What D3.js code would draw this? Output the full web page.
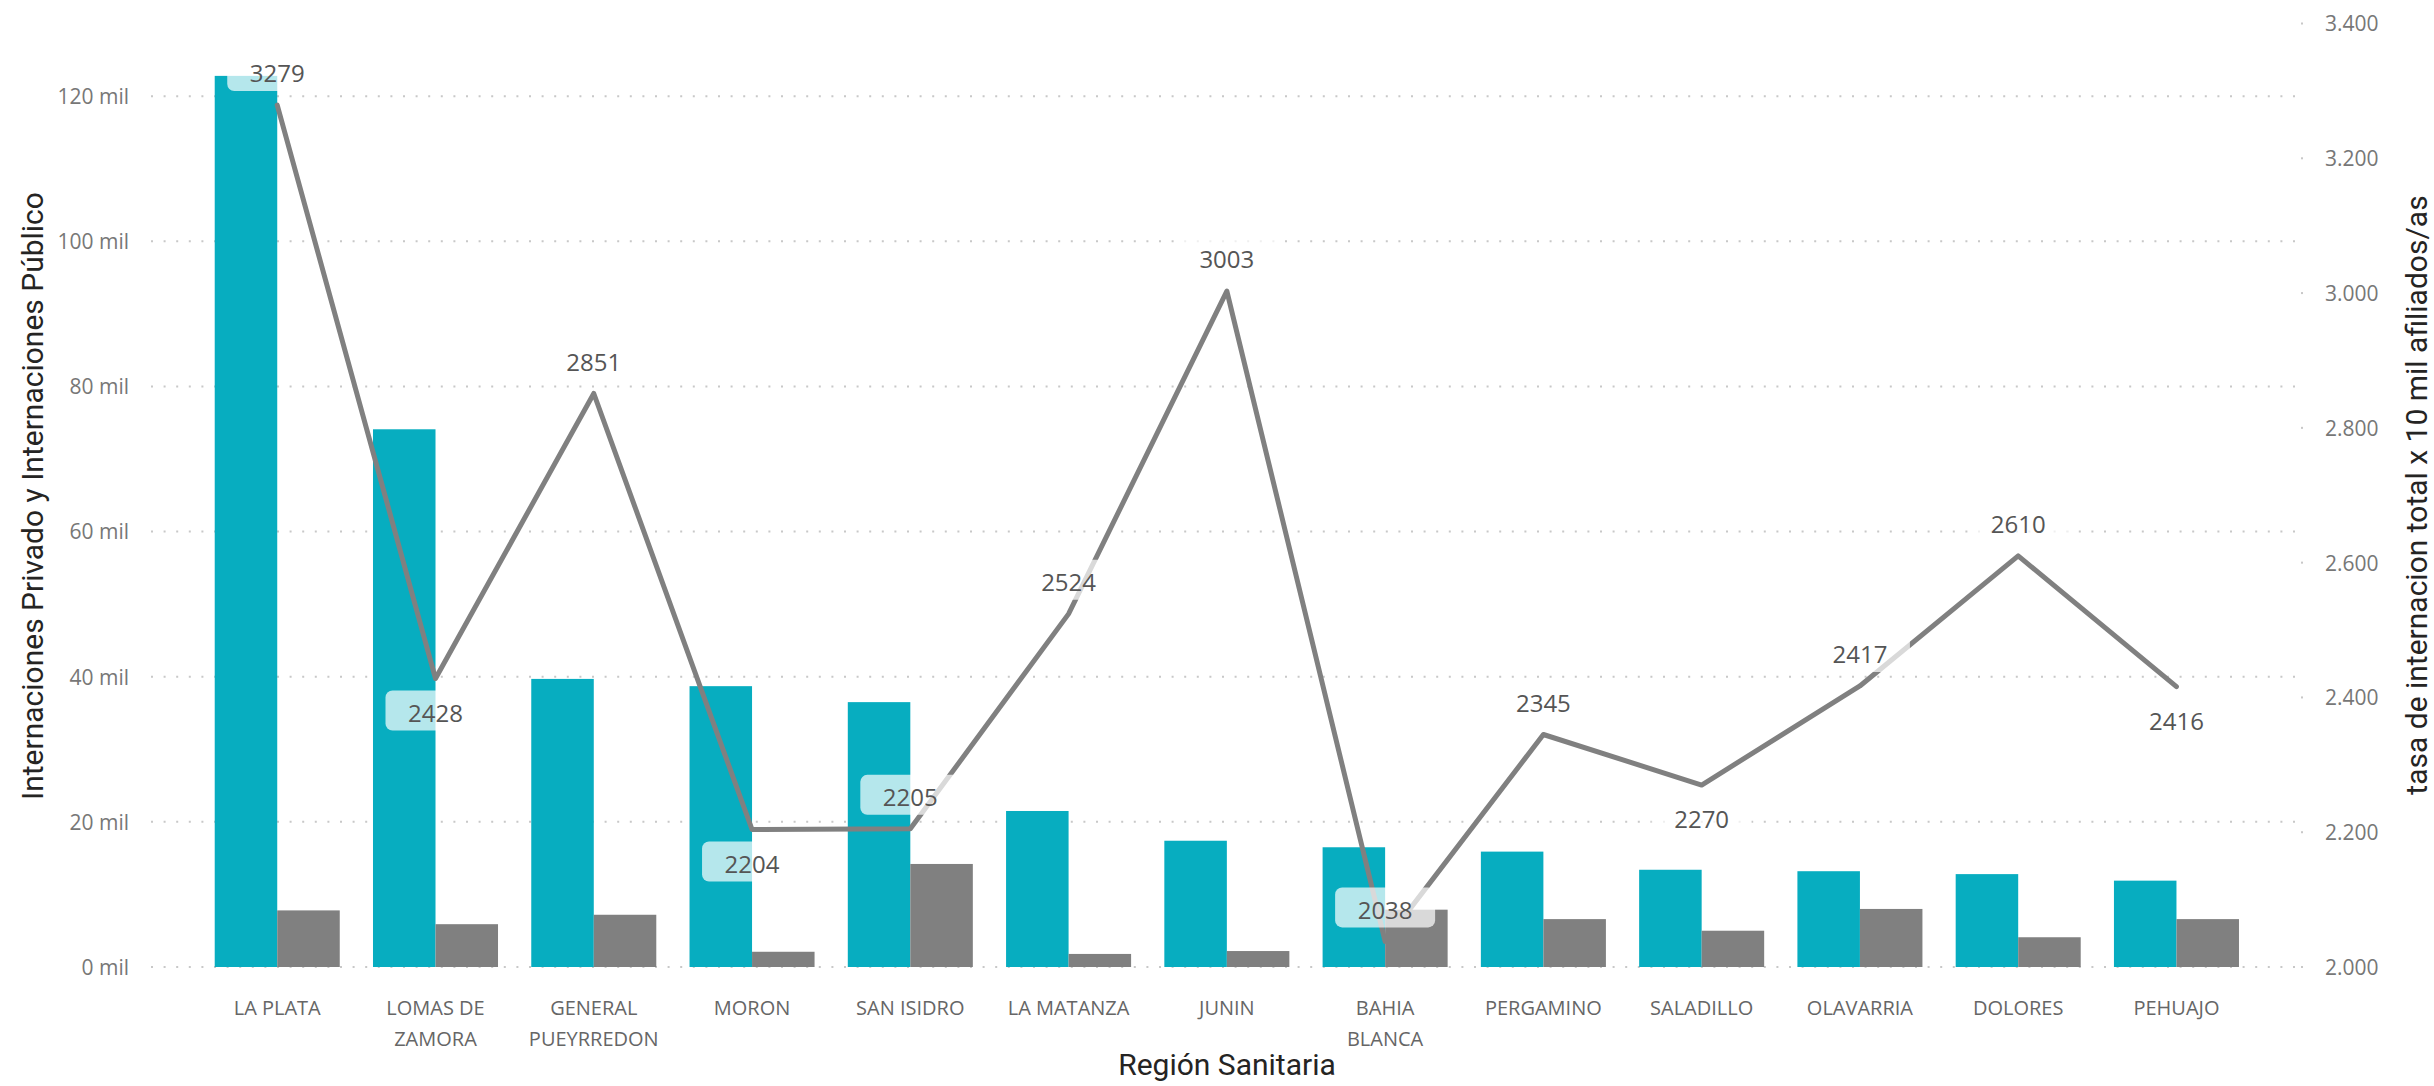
<!DOCTYPE html>
<html>
<head>
<meta charset="utf-8">
<script src="https://cdn.jsdelivr.net/npm/d3@7"></script>
<style>
  html, body { margin: 0; padding: 0; background: #ffffff; }
  svg { display: block; }
</style>
</head>
<body>
<svg id="chart" width="2434" height="1086"></svg>
<script>
// ---------------- DATA ----------------
const categories = ["LA PLATA", "LOMAS DE ZAMORA", "GENERAL PUEYRREDON", "MORON", "SAN ISIDRO",
  "LA MATANZA", "JUNIN", "BAHIA BLANCA", "PERGAMINO", "SALADILLO", "OLAVARRIA", "DOLORES", "PEHUAJO"];
const tickLabels = [["LA PLATA"], ["LOMAS DE", "ZAMORA"], ["GENERAL", "PUEYRREDON"], ["MORON"], ["SAN ISIDRO"],
  ["LA MATANZA"], ["JUNIN"], ["BAHIA", "BLANCA"], ["PERGAMINO"], ["SALADILLO"], ["OLAVARRIA"], ["DOLORES"], ["PEHUAJO"]];
const internacionesPrivado = [122800, 74100, 39700, 38700, 36500, 21500, 17400, 16500, 15900, 13400, 13200, 12800, 11900];
const internacionesPublico = [7800, 5900, 7200, 2100, 14200, 1800, 2200, 7900, 6600, 5000, 8000, 4100, 6600];
const tasaInternacion = [3279, 2428, 2851, 2204, 2205, 2524, 3003, 2038, 2345, 2270, 2417, 2610, 2416];
const leftTicks = [0, 20000, 40000, 60000, 80000, 100000, 120000];
const rightTicks = [2000, 2200, 2400, 2600, 2800, 3000, 3200, 3400];
const leftTitle = "Internaciones Privado y Internaciones Público";
const rightTitle = "tasa de internacion total x 10 mil afiliados/as";
const xTitle = "Región Sanitaria";

// ---------------- LAYOUT ----------------
const svg = d3.select("#chart");
const plotBottom = 967;
const tickFont = "'Segoe UI', 'Open Sans', sans-serif";
const titleFont = "'DIN', 'Roboto', sans-serif";
const teal = "#07adc0";
const grey = "#808080";

const x = d3.scaleBand().domain(categories).range([198.1, 2255.6]).paddingInner(0.21).paddingOuter(0.105);
const xs = d3.scaleBand().domain(["priv", "pub"]).range([0, x.bandwidth()]);
const yL = d3.scaleLinear().domain([0, 120000]).range([plotBottom, 96.2]);
const yR = d3.scaleLinear().domain([2000, 3400]).range([plotBottom, 23.5]);

const locale = d3.formatLocale({ decimal: ",", thousands: ".", grouping: [3], currency: ["$", ""] });
const fmtR = locale.format(",.0f");

// gridlines (left axis)
const grid = svg.append("g");
grid.selectAll("line").data(leftTicks).join("line")
  .attr("x1", 151).attr("x2", d => d === 0 ? 2303 : 2296)
  .attr("y1", d => yL(d)).attr("y2", d => yL(d))
  .attr("stroke", "#c8c8c8").attr("stroke-width", 2)
  .attr("stroke-dasharray", "2,10.6");

// right axis tick dots
svg.append("g").selectAll("rect").data(rightTicks).join("rect")
  .attr("x", 2301).attr("y", d => yR(d) - 1).attr("width", 2).attr("height", 2)
  .attr("fill", "#c8c8c8");

// left axis
const leftAxis = d3.axisLeft(yL).tickValues(leftTicks).tickSize(0).tickPadding(0)
  .tickFormat(d => (d / 1000) + " mil");
const gL = svg.append("g").attr("transform", "translate(129,0)").call(leftAxis);
gL.select(".domain").remove();
gL.selectAll("text").attr("font-family", tickFont).attr("font-size", 21).attr("fill", "#777").attr("dy", "0.35em");

// right axis
const rightAxis = d3.axisRight(yR).tickValues(rightTicks).tickSize(0).tickPadding(0)
  .tickFormat(d => fmtR(d));
const gR = svg.append("g").attr("transform", "translate(2325,0)").call(rightAxis);
gR.select(".domain").remove();
gR.selectAll("text").attr("font-family", tickFont).attr("font-size", 21).attr("fill", "#777").attr("dy", "0.35em");

// bars
const rows = categories.map((c, i) => ({ cat: c, priv: internacionesPrivado[i], pub: internacionesPublico[i], tasa: tasaInternacion[i], i }));
const groups = svg.append("g").selectAll("g").data(rows).join("g")
  .attr("transform", d => `translate(${x(d.cat)},0)`);
groups.append("rect")
  .attr("x", xs("priv")).attr("width", xs.bandwidth())
  .attr("y", d => yL(d.priv)).attr("height", d => yL(0) - yL(d.priv))
  .attr("fill", teal);
groups.append("rect")
  .attr("x", xs("pub")).attr("width", xs.bandwidth())
  .attr("y", d => yL(d.pub)).attr("height", d => yL(0) - yL(d.pub))
  .attr("fill", grey);

// category labels
const xAxis = svg.append("g");
rows.forEach(d => {
  const t = xAxis.append("text")
    .attr("x", x(d.cat) + x.bandwidth() / 2)
    .attr("text-anchor", "middle")
    .attr("font-family", tickFont).attr("font-size", 20).attr("fill", "#666");
  tickLabels[d.i].forEach((line, k) => {
    t.append("tspan").attr("x", x(d.cat) + x.bandwidth() / 2).attr("y", 1015 + k * 31).text(line);
  });
});

// line
const cx = d => x(d.cat) + x.bandwidth() / 2;
const line = d3.line().x(cx).y(d => yR(d.tasa));
svg.append("path").datum(rows)
  .attr("d", line)
  .attr("fill", "none").attr("stroke", grey).attr("stroke-width", 5)
  .attr("stroke-linejoin", "round").attr("stroke-linecap", "round");

// data labels
function isBelow(d, i) {
  const prev = i > 0 ? rows[i - 1].tasa : -Infinity;
  const next = i < rows.length - 1 ? rows[i + 1].tasa : -Infinity;
  const localMin = (i === 0 ? d.tasa < next : d.tasa < prev) && (i === rows.length - 1 ? true : d.tasa < next);
  const room = yR(d.tasa) + 35 + 22 < plotBottom;
  return localMin && room;
}
const labels = svg.append("g");
rows.forEach((d, i) => {
  const below = isBelow(d, i);
  const ty = yR(d.tasa) + (below ? 35 : -31);
  labels.append("rect")
    .attr("x", cx(d) - 50).attr("y", ty - 23).attr("width", 100).attr("height", 40)
    .attr("rx", 7).attr("fill", "#ffffff").attr("fill-opacity", 0.7);
  labels.append("text")
    .attr("x", cx(d)).attr("y", ty).attr("dy", "0.35em")
    .attr("text-anchor", "middle")
    .attr("font-family", tickFont).attr("font-size", 24).attr("fill", "#555")
    .text(d.tasa);
});

// axis titles
svg.append("text")
  .attr("transform", "translate(32,496) rotate(-90)")
  .attr("text-anchor", "middle").attr("dy", "0.35em")
  .attr("font-family", titleFont).attr("font-size", 30).attr("fill", "#252423")
  .text(leftTitle);
svg.append("text")
  .attr("transform", "translate(2416,495) rotate(-90)")
  .attr("text-anchor", "middle").attr("dy", "0.35em")
  .attr("font-family", titleFont).attr("font-size", 30).attr("fill", "#252423")
  .text(rightTitle);
svg.append("text")
  .attr("x", 1227).attr("y", 1075)
  .attr("text-anchor", "middle")
  .attr("font-family", titleFont).attr("font-size", 30).attr("fill", "#252423")
  .text(xTitle);
</script>
</body>
</html>
